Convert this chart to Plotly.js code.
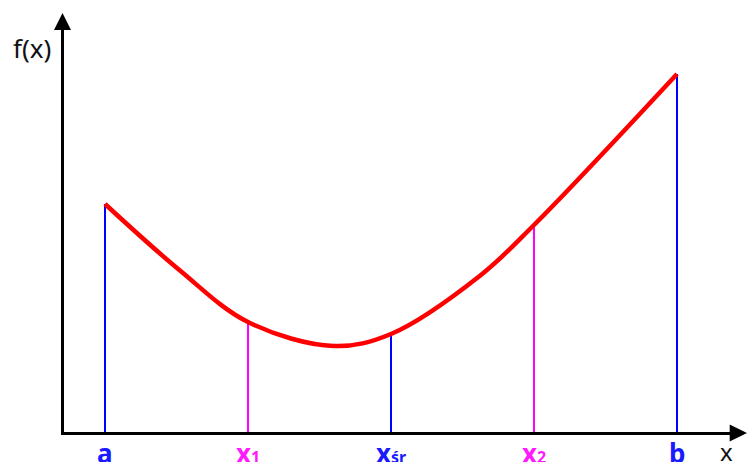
<!DOCTYPE html>
<html>
<head>
<meta charset="utf-8">
<script src="https://cdn.plot.ly/plotly-3.0.1.min.js"></script>
<style>html,body{margin:0;padding:0;background:#fff;}#chart{width:747px;height:462px;}</style>
</head>
<body>
<div id="chart"></div>
<script>
// Curve f(x) (x: a=1 ... b=5)
const curveX = [1.00, 1.52, 2.00, 2.60, 3.00, 3.62, 4.00, 5.00];
const curveY = [2.28, 1.62, 1.10, 0.86, 0.98, 1.56, 2.07, 3.58];

// Marked points on the x axis
const pointX = [1, 2, 3, 4, 5];
const pointF = [2.28, 1.10, 0.98, 2.07, 3.58];
const pointMain = ['a', 'x', 'x', 'x', 'b'];
const pointSub = ['', '1', 'śr', '2', ''];
const pointColors = ['#0000ff', '#ff00ff', '#0000ff', '#ff00ff', '#0000ff'];
const labelColors = ['#1a1aff', '#ff1aff', '#1a1aff', '#ff1aff', '#1a1aff'];

const traces = [];
pointX.forEach((x, i) => {
  traces.push({
    x: [x, x], y: [0, pointF[i]], mode: 'lines', type: 'scatter',
    line: {color: pointColors[i], width: 2}, hoverinfo: 'skip', showlegend: false
  });
});
traces.push({
  x: curveX, y: curveY, mode: 'lines', type: 'scatter',
  line: {color: '#ff0000', width: 4.5, shape: 'spline', smoothing: 1}, showlegend: false
});

const annotations = pointX.map((x, i) => ({
  x: x, xref: 'x', y: -0.053, yref: 'paper', yanchor: 'middle', xanchor: 'center',
  text: '<b>' + pointMain[i] + (pointSub[i] ? '<span style="font-size:16px">' + pointSub[i] + '</span>' : '') + '</b>',
  showarrow: false,
  font: {family: 'Noto Sans, Open Sans, sans-serif', size: 26, color: labelColors[i]}
}));
annotations.push({
  x: -0.048, xref: 'paper', y: 0.955, yref: 'paper', xanchor: 'center', yanchor: 'middle',
  text: 'f(x)', showarrow: false,
  font: {family: 'Noto Sans, Open Sans, sans-serif', size: 26, color: '#111'}
});
annotations.push({
  x: 0.994, xref: 'paper', y: -0.049, yref: 'paper', xanchor: 'center', yanchor: 'middle',
  text: 'x', showarrow: false,
  font: {family: 'Noto Sans, Open Sans, sans-serif', size: 24, color: '#111'}
});

const shapes = [
  {type: 'path', xref: 'paper', yref: 'paper', layer: 'above',
   path: 'M -0.0150 1.0 L 0.0105 1.0 L -0.00225 1.0423 Z',
   fillcolor: '#000', line: {width: 0}},
  {type: 'path', xref: 'paper', yref: 'paper', layer: 'above',
   path: 'M 0.998 0.0186 L 0.998 -0.0236 L 1.024 -0.0025 Z',
   fillcolor: '#000', line: {width: 0}}
];

const layout = {
  width: 747, height: 462,
  margin: {l: 64, r: 16, t: 30, b: 30},
  paper_bgcolor: '#fff', plot_bgcolor: '#fff',
  xaxis: {range: [0.7133, 5.3776], showline: true, linecolor: '#000', linewidth: 3,
          showgrid: false, zeroline: false, showticklabels: false, ticks: ''},
  yaxis: {range: [0, 4.02], showline: true, linecolor: '#000', linewidth: 3,
          showgrid: false, zeroline: false, showticklabels: false, ticks: ''},
  annotations: annotations,
  shapes: shapes,
  showlegend: false
};

Plotly.newPlot('chart', traces, layout, {displayModeBar: false, staticPlot: true});
</script>
</body>
</html>
